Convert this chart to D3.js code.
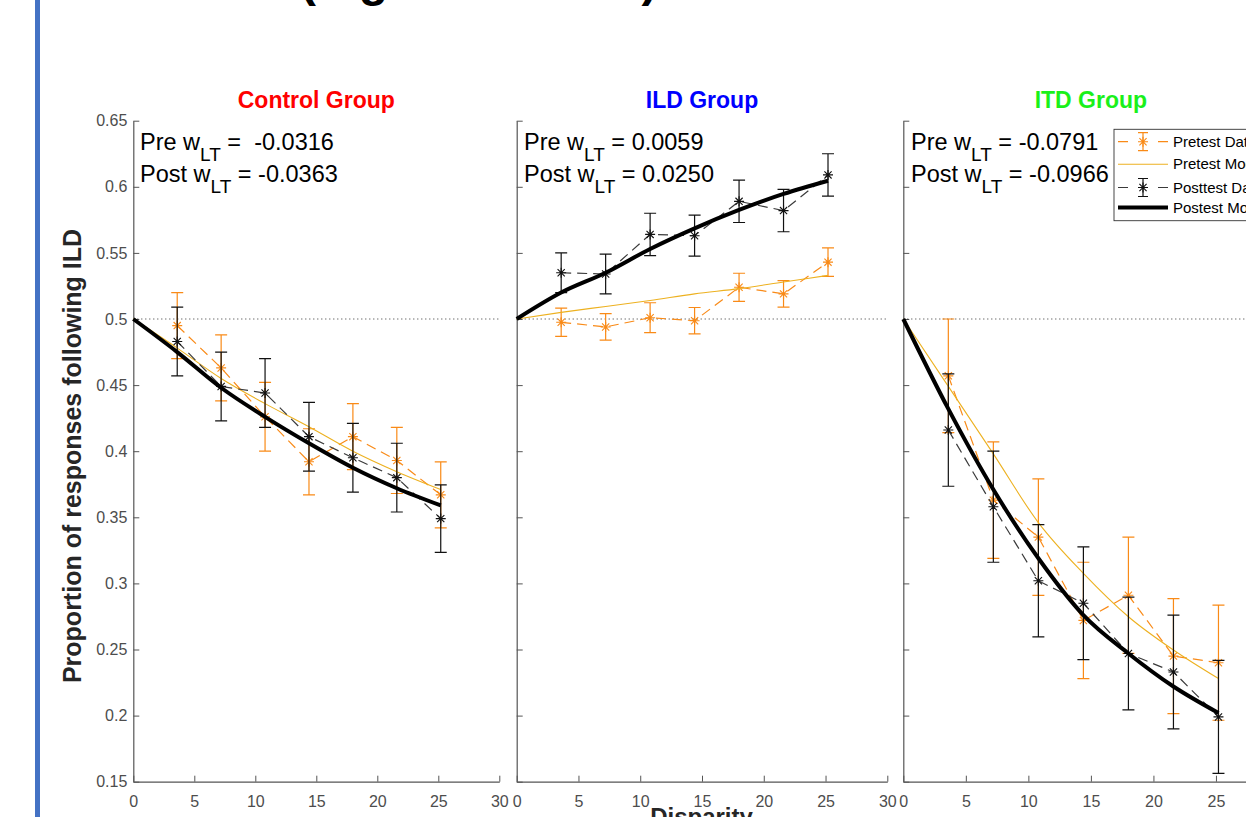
<!DOCTYPE html>
<html><head><meta charset="utf-8">
<script src="https://cdn.jsdelivr.net/npm/d3@7"></script>
<style>body{margin:0;background:#fff;overflow:hidden} svg{display:block;font-family:"Liberation Sans",Arial,Helvetica,sans-serif}</style>
</head><body><svg id="c" width="1246" height="817"></svg>
<script>
// ---------- data ----------
const disparity = [3.6, 7.2, 10.8, 14.4, 18, 21.6, 25.2];
const modelDisparity = [0, 3.6, 7.2, 10.8, 14.4, 18, 21.6, 25.2];
const groupNames = ["Control Group", "ILD Group", "ITD Group"];
const preWeightLabels = [" =  -0.0316", " = 0.0059", " = -0.0791"];
const postWeightLabels = [" = -0.0363", " = 0.0250", " = -0.0966"];
const xTicks = [0, 5, 10, 15, 20, 25, 30];
const yTicks = [0.15, 0.2, 0.25, 0.3, 0.35, 0.4, 0.45, 0.5, 0.55, 0.6, 0.65];
const legendLabels = ["Pretest Data", "Pretest Model", "Posttest Data", "Postest Model"];

const controlPre      = [0.495, 0.463, 0.426, 0.392, 0.411, 0.393, 0.367];
const controlPreErr   = [0.025, 0.025, 0.026, 0.025, 0.025, 0.025, 0.025];
const controlPost     = [0.483, 0.449, 0.444, 0.411, 0.395, 0.380, 0.349];
const controlPostErr  = [0.026, 0.026, 0.026, 0.026, 0.026, 0.026, 0.0255];
const controlPreModel = [0.5, 0.478, 0.455, 0.436, 0.4185, 0.400, 0.3845, 0.371];
const controlPostModel= [0.5, 0.475, 0.448, 0.426, 0.406, 0.3875, 0.372, 0.359];

const ildPre      = [0.4975, 0.494, 0.501, 0.4987, 0.524, 0.519, 0.543];
const ildPreErr   = [0.0107, 0.010, 0.0113, 0.010, 0.0106, 0.010, 0.0108];
const ildPost     = [0.535, 0.534, 0.564, 0.563, 0.589, 0.582, 0.609];
const ildPostErr  = [0.015, 0.015, 0.016, 0.0155, 0.016, 0.016, 0.016];
const ildPreModel = [0.5, 0.505, 0.5095, 0.514, 0.519, 0.523, 0.528, 0.533];
const ildPostModel= [0.5, 0.520, 0.535, 0.553, 0.5686, 0.5825, 0.5946, 0.6046];

const itdPre      = [0.457, 0.363, 0.335, 0.272, 0.291, 0.245, 0.240];
const itdPreErr   = [0.043, 0.044, 0.044, 0.044, 0.044, 0.0435, 0.0435];
const itdPost     = [0.416, 0.358, 0.302, 0.285, 0.247, 0.233, 0.199];
const itdPostErr  = [0.0425, 0.042, 0.0425, 0.0426, 0.0426, 0.043, 0.0427];
const itdPreModel = [0.5, 0.449, 0.398, 0.346, 0.3076, 0.2748, 0.2496, 0.228];
const itdPostModel= [0.5, 0.432, 0.371, 0.319, 0.276, 0.247, 0.222, 0.202];

// ---------- layout / style ----------
const svg = d3.select("#c");
const ORANGE = "#F98A17", YELLOW = "#EDB120", AXIS = "#555", TICKTXT = "#4d4d4d";
const titleColors = ["#FF0000", "#0000FF", "#1AF01A"];
const panelX = [[133.3, 499.3], [516.7, 887.3], [903.3, 1278.5]];
const yTop = 120.7, yBot = 781.7;
const annotX = [140, 524, 911];

const panels = [
  {pre: controlPre, preErr: controlPreErr, post: controlPost, postErr: controlPostErr, preM: controlPreModel, postM: controlPostModel},
  {pre: ildPre, preErr: ildPreErr, post: ildPost, postErr: ildPostErr, preM: ildPreModel, postM: ildPostModel},
  {pre: itdPre, preErr: itdPreErr, post: itdPost, postErr: itdPostErr, preM: itdPreModel, postM: itdPostModel}
];

// left slide bar
svg.append("rect").attr("x", 35).attr("y", 0).attr("width", 5).attr("height", 817).attr("fill", "#4472C4");
// cut-off slide title
svg.append("text").attr("x", 300).attr("y", -4).attr("font-size", 48).attr("font-weight", "bold")
  .attr("fill", "#000").text("(Figure 12 data)");

function star(sel, cx, cy, color) {
  const r = 5, d = 3.6;
  sel.append("path")
    .attr("d", `M${cx - r},${cy}L${cx + r},${cy}M${cx},${cy - r}L${cx},${cy + r}M${cx - d},${cy - d}L${cx + d},${cy + d}M${cx - d},${cy + d}L${cx + d},${cy - d}`)
    .attr("stroke", color).attr("stroke-width", 1.1).attr("fill", "none");
}

function errorSeries(g, x, y, means, errs, color, lineColor) {
  g.append("path").datum(means)
    .attr("d", d3.line().x((d, i) => x(disparity[i])).y(d => y(d)))
    .attr("fill", "none").attr("stroke", lineColor).attr("stroke-width", 1.2).attr("stroke-dasharray", "10,6");
  means.forEach((m, i) => {
    const cx = x(disparity[i]);
    const y1 = y(m - errs[i]), y2 = y(m + errs[i]);
    g.append("path").attr("d", `M${cx},${y1}L${cx},${y2}M${cx - 6},${y1}L${cx + 6},${y1}M${cx - 6},${y2}L${cx + 6},${y2}`)
      .attr("stroke", color).attr("stroke-width", 1.2).attr("fill", "none");
    star(g, cx, y(m), color);
  });
}

panels.forEach((p, k) => {
  const x = d3.scaleLinear().domain([0, 30]).range(panelX[k]);
  const y = d3.scaleLinear().domain([0.15, 0.65]).range([yBot, yTop]);
  const g = svg.append("g");

  // axes
  const xa = g.append("g").attr("transform", `translate(0,${yBot})`)
    .call(d3.axisBottom(x).tickValues(xTicks).tickSizeInner(-6).tickSizeOuter(0).tickPadding(14));
  const ya = g.append("g").attr("transform", `translate(${panelX[k][0]},0)`)
    .call(d3.axisLeft(y).tickValues(yTicks).tickSizeInner(-6).tickSizeOuter(0).tickPadding(6)
      .tickFormat(k === 0 ? (d => String(+d.toFixed(2))) : () => ""));
  [xa, ya].forEach(a => {
    a.select(".domain").attr("stroke", AXIS).attr("stroke-width", 1.2);
    a.selectAll(".tick line").attr("stroke", AXIS).attr("stroke-width", 1);
    a.selectAll(".tick text").attr("fill", TICKTXT).attr("font-size", 16).attr("font-family", "Liberation Sans, Arial, sans-serif");
  });

  // reference dotted line at 0.5
  g.append("line").attr("x1", x(0)).attr("x2", x(30)).attr("y1", y(0.5)).attr("y2", y(0.5))
    .attr("stroke", "#333").attr("stroke-width", 1).attr("stroke-dasharray", "1,3");

  const mline = d3.line().x((d, i) => x(modelDisparity[i])).y(d => y(d)).curve(d3.curveMonotoneX);

  // pretest data + model
  errorSeries(g, x, y, p.pre, p.preErr, ORANGE, ORANGE);
  g.append("path").datum(p.preM).attr("d", mline).attr("fill", "none").attr("stroke", YELLOW).attr("stroke-width", 1.1);
  // posttest data + model
  errorSeries(g, x, y, p.post, p.postErr, "#111", "#3a3a3a");
  g.append("path").datum(p.postM).attr("d", mline).attr("fill", "none").attr("stroke", "#000").attr("stroke-width", 4);

  // title
  g.append("text").attr("x", (panelX[k][0] + panelX[k][1]) / 2).attr("y", 108)
    .attr("text-anchor", "middle").attr("font-size", 23).attr("font-weight", "bold")
    .attr("fill", titleColors[k]).text(groupNames[k]);

  // annotations
  [["Pre w", preWeightLabels[k], 150], ["Post w", postWeightLabels[k], 181.5]].forEach(([a, b, yy]) => {
    const t = g.append("text").attr("x", annotX[k]).attr("y", yy).attr("font-size", 23.5)
      .attr("fill", "#000").style("white-space", "pre");
    t.append("tspan").text(a);
    t.append("tspan").attr("dy", 11).attr("font-size", 19).text("LT");
    t.append("tspan").attr("dy", -11).text(b);
  });
});

// axis labels
svg.append("text").attr("transform", "translate(81,456) rotate(-90)").attr("text-anchor", "middle")
  .attr("font-size", 25).attr("font-weight", "bold").attr("fill", "#262626").text("Proportion of responses following ILD");
svg.append("text").attr("x", 701.5).attr("y", 825).attr("text-anchor", "middle")
  .attr("font-size", 24).attr("font-weight", "bold").attr("fill", "#262626").text("Disparity");

// legend
const lg = svg.append("g");
lg.append("rect").attr("x", 1114).attr("y", 129.3).attr("width", 200).attr("height", 91.4)
  .attr("fill", "#fff").attr("stroke", "#333").attr("stroke-width", 0.9);
const legY = [141.7, 164.2, 187.5, 207.5];
legendLabels.forEach((lab, i) => {
  const yy = legY[i];
  if (i === 0 || i === 2) {
    const c = i === 0 ? ORANGE : "#111";
    lg.append("line").attr("x1", 1118).attr("x2", 1168).attr("y1", yy).attr("y2", yy)
      .attr("stroke", i === 0 ? ORANGE : "#3a3a3a").attr("stroke-width", 1.2).attr("stroke-dasharray", "10,30");
    lg.append("path").attr("d", `M1143,${yy - 9}L1143,${yy + 9}M1138,${yy - 9}L1148,${yy - 9}M1138,${yy + 9}L1148,${yy + 9}`)
      .attr("stroke", c).attr("stroke-width", 1.2).attr("fill", "none");
    star(lg, 1143, yy, c);
  } else {
    lg.append("line").attr("x1", 1118).attr("x2", 1168).attr("y1", yy).attr("y2", yy)
      .attr("stroke", i === 1 ? YELLOW : "#000").attr("stroke-width", i === 1 ? 1.1 : 4);
  }
  lg.append("text").attr("x", 1173).attr("y", yy).attr("dy", "0.35em").attr("font-size", 15)
    .attr("fill", "#000").text(lab);
});
</script>
</body></html>
